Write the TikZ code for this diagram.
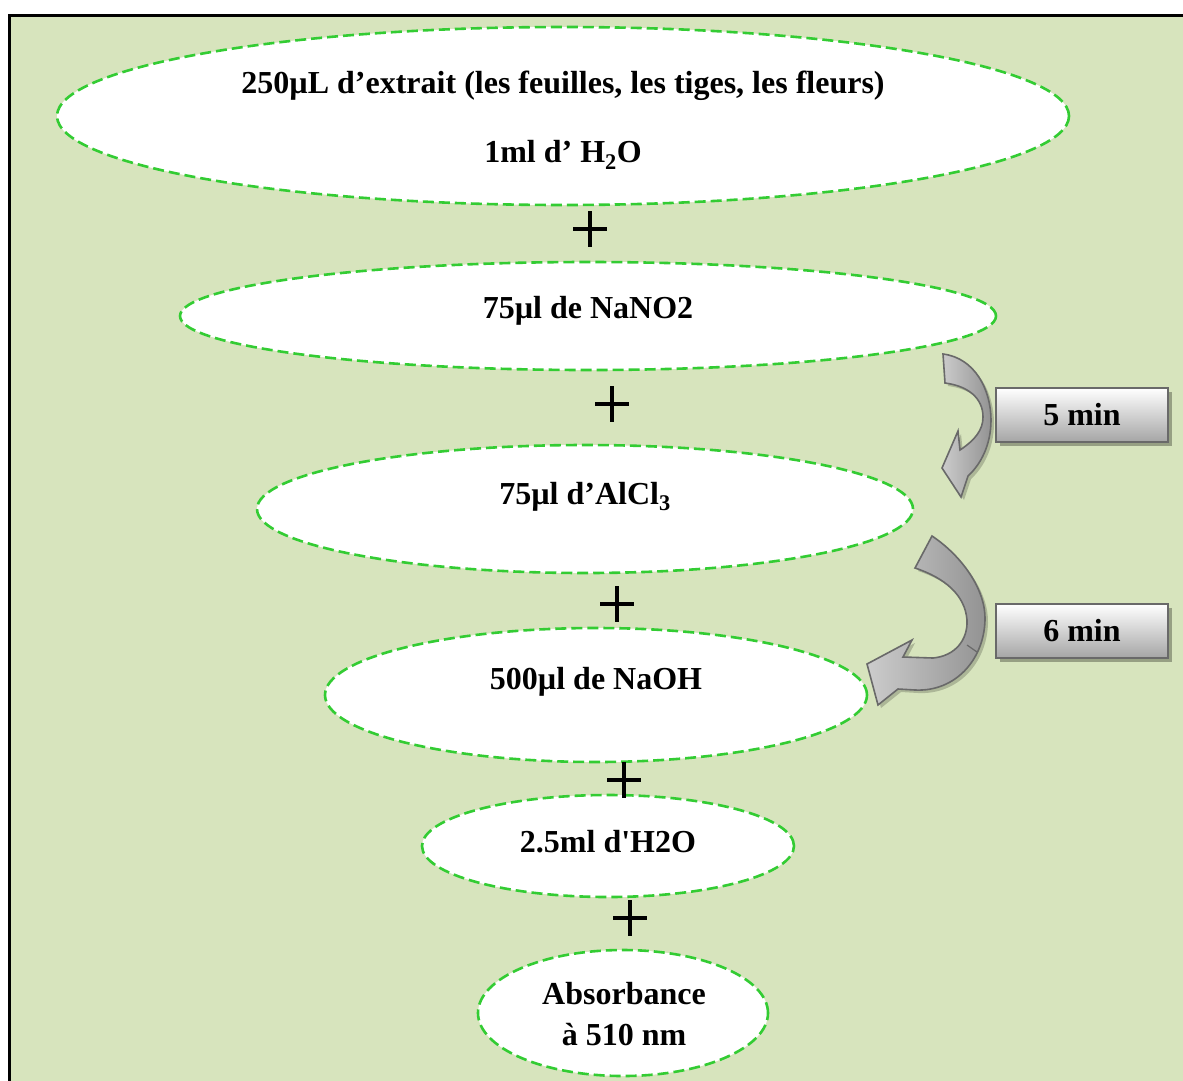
\documentclass[tikz,border=0pt]{standalone}
\usepackage{fontspec}
\setmainfont{Liberation Serif}
\usetikzlibrary{shapes.geometric,shadows}
\definecolor{bgc}{RGB}{215,228,189}
\definecolor{dgreen}{RGB}{51,204,51}
\definecolor{edgegray}{RGB}{105,105,105}
\definecolor{boxlow}{RGB}{165,165,165}
\tikzset{
  oval/.style={ellipse, draw=dgreen, dash pattern=on 11pt off 5pt, line width=2.6pt, fill=white, inner sep=0pt},
  lbl/.style={font=\bfseries\fontsize{32}{38}\selectfont, inner sep=0pt},
  plusline/.style={line width=3.5pt, black},
  timebox/.style={draw=edgegray, line width=2pt, top color=white, bottom color=boxlow,
    minimum width=172pt, minimum height=54pt, inner sep=0pt,
    drop shadow={shadow xshift=4pt, shadow yshift=-4pt, fill=black, opacity=0.3},
    font=\bfseries\fontsize{32}{38}\selectfont},
  curvarrow/.style={draw=edgegray, line width=1.6pt, left color=gray!40, right color=gray!85,
    drop shadow={shadow xshift=3pt, shadow yshift=-3pt, fill=black, opacity=0.2}}
}
\begin{document}
\begin{tikzpicture}[x=1pt,y=-1pt]
\useasboundingbox (0,0) rectangle (1183,1080);
\clip (0,0) rectangle (1183,1080);
\fill[white] (0,0) rectangle (1183,1080);
\draw[line width=3pt, fill=bgc] (9.5,15.5) rectangle (1200,1100);

% curved arrows
\path[curvarrow] (943,354) .. controls (975,358) and (991,390) .. (991,420)
  .. controls (991,446) and (980,465) .. (968,476) -- (961,497) -- (942,468)
  -- (958,431) -- (960,450) .. controls (975,440) and (983,430) .. (983,417)
  .. controls (983,398) and (968,386) .. (945,383) -- cycle;
\path[curvarrow] (932,536) .. controls (962,556) and (986,590) .. (985,620)
  .. controls (984,660) and (955,692) .. (915,690) -- (898,689) -- (878,705)
  -- (867,664) -- (912,640) -- (903,657) -- (933,658)
  .. controls (955,656) and (968,640) .. (967,620)
  .. controls (965,595) and (945,578) .. (915,568) -- cycle;
\draw[edgegray, line width=1.2pt] (967,645) -- (977,652);

% ellipses
\node[oval, minimum width=1012pt, minimum height=178pt] (e1) at (563,116) {};
\node[oval, minimum width=816pt, minimum height=108pt] (e2) at (588,316) {};
\node[oval, minimum width=656pt, minimum height=128pt] (e3) at (585,509) {};
\node[oval, minimum width=542pt, minimum height=134pt] (e4) at (596,695) {};
\node[oval, minimum width=372pt, minimum height=102pt] (e5) at (608,846) {};
\node[oval, minimum width=290pt, minimum height=126pt] (e6) at (623,1013) {};

% texts
\node[lbl] (t1a) at (563,86) {250µL d’extrait (les feuilles, les tiges, les fleurs)};
\node[lbl] (t1b) at (563,155) {1ml d’ H\textsubscript{2}O};
\node[lbl] (t2) at (588,311) {75µl de NaNO2};
\node[lbl] (t3) at (585,497) {75µl d’AlCl\textsubscript{3}};
\node[lbl] (t4) at (596,682) {500µl de NaOH};
\node[lbl] (t5) at (608,842) {2.5ml d\textquotesingle H2O};
\node[lbl] (t6a) at (624,994) {Absorbance};
\node[lbl] (t6b) at (624,1035) {à 510 nm};

% plus signs
\foreach \px/\py in {590/229, 612/404, 617/604, 624/780, 630/918}{
  \draw[plusline] (\px-17,\py) -- (\px+17,\py) (\px,\py-18) -- (\px,\py+18);
}

% time boxes
\node[timebox] (b1) at (1082,415) {5 min};
\node[timebox] (b2) at (1082,631) {6 min};
\end{tikzpicture}
\end{document}
